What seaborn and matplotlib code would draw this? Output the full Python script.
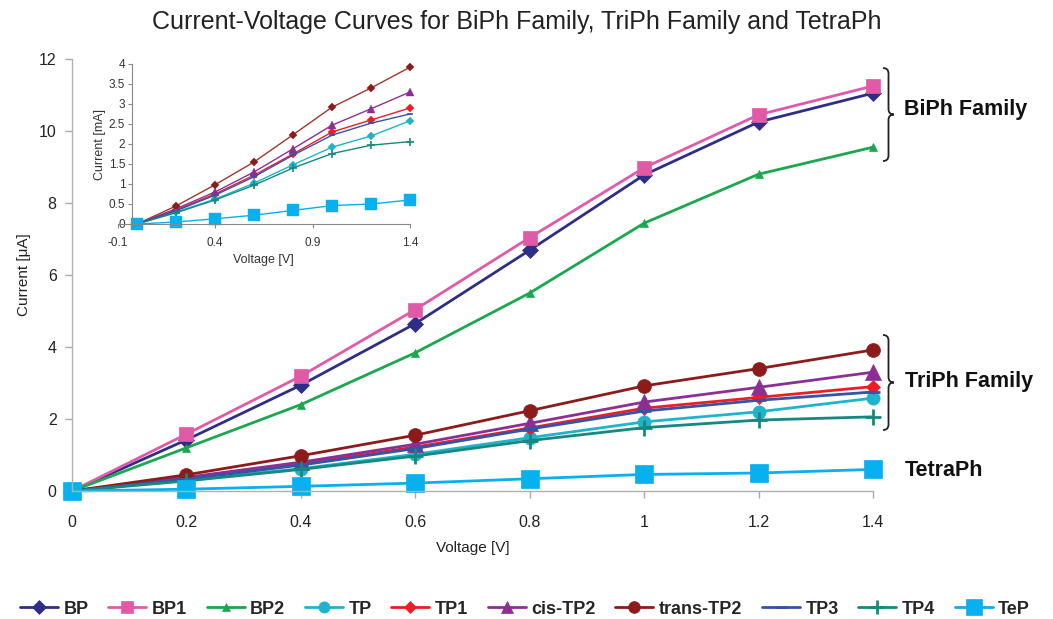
import numpy as np
import pandas as pd
import matplotlib
matplotlib.use("Agg")
import matplotlib.pyplot as plt
from matplotlib.path import Path
from matplotlib.patches import PathPatch
from matplotlib.lines import Line2D
import seaborn as sns

sns.set_style("white")
plt.rcParams['font.family'] = ['Liberation Sans', 'DejaVu Sans']

# ---------------- data ----------------
voltage = [0, 0.2, 0.4, 0.6, 0.8, 1.0, 1.2, 1.4]

BP = [0, 1.42, 2.94, 4.65, 6.69, 8.78, 10.25, 11.05]
BP1 = [0, 1.58, 3.19, 5.04, 7.04, 8.98, 10.45, 11.25]
BP2 = [0, 1.20, 2.40, 3.84, 5.50, 7.44, 8.80, 9.55]
TP = [0, 0.30, 0.62, 1.02, 1.48, 1.92, 2.20, 2.58]
TP1 = [0, 0.35, 0.75, 1.22, 1.75, 2.30, 2.60, 2.90]
cisTP2 = [0, 0.38, 0.80, 1.30, 1.88, 2.47, 2.88, 3.30]
transTP2 = [0, 0.45, 0.98, 1.55, 2.23, 2.92, 3.40, 3.92]
TP3 = [0, 0.33, 0.72, 1.18, 1.72, 2.22, 2.52, 2.75]
TP4 = [0, 0.28, 0.60, 0.97, 1.40, 1.76, 1.97, 2.06]
TeP = [0, 0.05, 0.13, 0.22, 0.34, 0.46, 0.50, 0.60]

series_names = ["BP", "BP1", "BP2", "TP", "TP1", "cis-TP2", "trans-TP2", "TP3", "TP4", "TeP"]
series_values = [BP, BP1, BP2, TP, TP1, cisTP2, transTP2, TP3, TP4, TeP]
inset_names = ["TP", "TP1", "cis-TP2", "trans-TP2", "TP3", "TP4", "TeP"]

x_ticks = [0, 0.2, 0.4, 0.6, 0.8, 1.0, 1.2, 1.4]
x_ticklabels = ["0", "0.2", "0.4", "0.6", "0.8", "1", "1.2", "1.4"]
y_ticks = [0, 2, 4, 6, 8, 10, 12]
inset_x_ticks = [-0.1, 0.4, 0.9, 1.4]
inset_x_ticklabels = ["-0.1", "0.4", "0.9", "1.4"]
inset_y_ticks = [0, 0.5, 1, 1.5, 2, 2.5, 3, 3.5, 4]
inset_y_ticklabels = ["0", "0.5", "1", "1.5", "2", "2.5", "3", "3.5", "4"]

# ---------------- styles ----------------
colors = {"BP": "#2d2e87", "BP1": "#e05aa8", "BP2": "#1aa84e", "TP": "#1fb4cc",
          "TP1": "#ee1d25", "cis-TP2": "#8c2f95", "trans-TP2": "#8e1b1b",
          "TP3": "#3554a8", "TP4": "#15897f", "TeP": "#07b0ee"}
markers = {"BP": "D", "BP1": "s", "BP2": "^", "TP": "o", "TP1": "D", "cis-TP2": "^",
           "trans-TP2": "o", "TP3": "_", "TP4": "+", "TeP": "s"}
msizes = {"BP": 8, "BP1": 9.5, "BP2": 6, "TP": 9.5, "TP1": 7.5, "cis-TP2": 11,
          "trans-TP2": 10, "TP3": 10, "TP4": 12, "TeP": 13}
inset_markers = {"TP": "D", "TP1": "D", "cis-TP2": "^", "trans-TP2": "D",
                 "TP3": "_", "TP4": "+", "TeP": "s"}
inset_msizes = {"TP": 4, "TP1": 4.5, "cis-TP2": 6, "trans-TP2": 4.5,
                "TP3": 5, "TP4": 6, "TeP": 8}
inset_colors = dict(colors)
inset_colors["trans-TP2"] = "#a0372a"

df = pd.DataFrame({"Voltage": np.tile(voltage, len(series_names)),
                   "Current": np.concatenate(series_values),
                   "Series": np.repeat(series_names, len(voltage))})

W, H = 1053, 619
fig = plt.figure(figsize=(W / 100, H / 100), dpi=100)
ax = fig.add_axes([72 / W, 1 - 491 / H, (873 - 72) / W, (491 - 59) / H])

for name in series_names:
    sub = df[df.Series == name]
    sns.lineplot(data=sub, x="Voltage", y="Current", ax=ax, color=colors[name],
                 marker=markers[name], markersize=msizes[name], linewidth=2.0,
                 markeredgewidth=2 if markers[name] in ("+", "_") else 0.5,
                 markeredgecolor=colors[name], clip_on=False, legend=False,
                 estimator=None, sort=False)

ax.set_xlim(0, 1.4)
ax.set_ylim(0, 12)
ax.set_xticks(x_ticks)
ax.set_xticklabels(x_ticklabels)
ax.set_yticks(y_ticks)
ax.tick_params(axis="both", labelsize=11.5, colors="#222222", length=5,
               direction="out", width=1, bottom=True, left=True)
ax.tick_params(axis="x", pad=12, color="#aaaaaa")
ax.tick_params(axis="y", pad=6, color="#aaaaaa")
for s in ["top", "right"]:
    ax.spines[s].set_visible(False)
for s in ["left", "bottom"]:
    ax.spines[s].set_color("#b0b0b0")
    ax.spines[s].set_linewidth(1)
ax.set_xlabel("Voltage [V]", fontsize=11, color="#222222", labelpad=8)
ax.set_ylabel("Current [\u03bcA]", fontsize=11, color="#222222", labelpad=6)

fig.text(517 / W, 1 - 22 / H, "Current-Voltage Curves for BiPh Family, TriPh Family and TetraPh",
         ha="center", va="center", fontsize=18, color="#222222")

# ---------------- inset ----------------
iax = fig.add_axes([117.5 / W, 1 - 224 / H, (410 - 117.5) / W, (224 - 64) / H])
for name in inset_names:
    sub = df[df.Series == name]
    sns.lineplot(data=sub, x="Voltage", y="Current", ax=iax, color=inset_colors[name],
                 marker=inset_markers[name], markersize=inset_msizes[name], linewidth=1.0,
                 markeredgewidth=1.2 if inset_markers[name] in ("+", "_") else 0.3,
                 markeredgecolor=colors[name], markerfacecolor=colors[name],
                 clip_on=False, legend=False, estimator=None, sort=False)
iax.set_xlim(-0.1, 1.4)
iax.set_ylim(0, 4)
iax.set_xticks(inset_x_ticks)
iax.set_xticklabels(inset_x_ticklabels)
iax.set_yticks(inset_y_ticks)
iax.set_yticklabels(inset_y_ticklabels)
iax.tick_params(axis="both", labelsize=8.5, colors="#333333", length=3,
                direction="out", width=0.8, bottom=True, left=True)
iax.tick_params(axis="x", pad=6, color="#888888")
iax.tick_params(axis="y", pad=2, color="#888888")
iax.patch.set_alpha(0)
for s in ["top", "right"]:
    iax.spines[s].set_visible(False)
iax.spines["left"].set_position(("data", -0.025))
for s in ["left", "bottom"]:
    iax.spines[s].set_color("#888888")
    iax.spines[s].set_linewidth(0.8)
iax.set_xlabel("Voltage [V]", fontsize=9, color="#333333", labelpad=4)
iax.set_ylabel("Current [mA]", fontsize=9, color="#333333", labelpad=2)


# ---------------- braces & group labels ----------------
def brace(x0, ytop, ybot, w):
    ym = (ytop + ybot) / 2
    r = w * 0.5
    xs = x0 + w * 0.5
    pts = [
        (x0, ytop), (xs, ytop), (xs, ytop + r),
        (xs, ym - r), (xs, ym), (x0 + w, ym),
        (xs, ym), (xs, ym + r),
        (xs, ybot - r), (xs, ybot), (x0, ybot),
    ]
    codes = [Path.MOVETO, Path.CURVE3, Path.CURVE3,
             Path.LINETO, Path.CURVE3, Path.CURVE3,
             Path.CURVE3, Path.CURVE3,
             Path.LINETO, Path.CURVE3, Path.CURVE3]
    verts = [(px / W, 1 - py / H) for px, py in pts]
    p = PathPatch(Path(verts, codes), transform=fig.transFigure, fill=False,
                  edgecolor="#222222", linewidth=1.3)
    fig.add_artist(p)


brace(883, 68, 161, 11)
brace(883, 335, 430, 11)
fig.text(904 / W, 1 - 110 / H, "BiPh Family", fontsize=15.5, fontweight="bold",
         ha="left", va="center", color="#111111")
fig.text(905 / W, 1 - 382 / H, "TriPh Family", fontsize=15.5, fontweight="bold",
         ha="left", va="center", color="#111111")
fig.text(905 / W, 1 - 470 / H, "TetraPh", fontsize=15.5, fontweight="bold",
         ha="left", va="center", color="#111111")

# ---------------- legend ----------------
handles = [Line2D([], [], color=colors[n], marker=markers[n],
                  markersize=msizes[n] * 0.85, linewidth=2.0,
                  markeredgewidth=2 if markers[n] in ("+", "_") else 0.5,
                  markeredgecolor=colors[n]) for n in series_names]
leg = fig.legend(handles, series_names, loc="center", bbox_to_anchor=(0.4986, 1 - 609 / H),
                 ncol=len(series_names), frameon=False, handlelength=2.1,
                 handletextpad=0.3, columnspacing=1.1,
                 prop={"family": ["Liberation Sans Narrow", "Liberation Sans"],
                       "weight": "bold", "size": 13})

fig.savefig("out.png", dpi=100)
